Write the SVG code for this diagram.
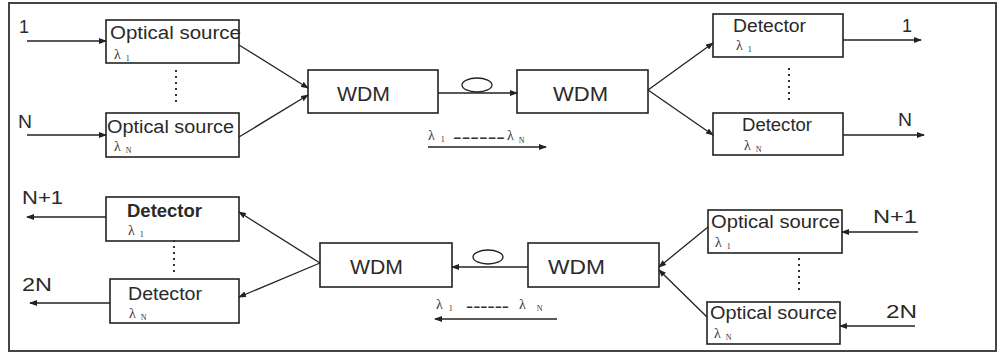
<svg xmlns="http://www.w3.org/2000/svg" width="1000" height="356" viewBox="0 0 1000 356">
<style>
.box{fill:#fff;stroke:#222;stroke-width:1.6}
.t{font-family:"Liberation Sans",Arial,sans-serif;font-size:18px;fill:#2a2a2a}
.w{font-family:"Liberation Sans",Arial,sans-serif;font-size:20px;fill:#2a2a2a}
.n{font-family:"Liberation Sans",Arial,sans-serif;font-size:18px;fill:#2a2a2a}
.l{font-family:"Liberation Serif","Times New Roman",serif;font-size:14px;fill:#333}
.s{font-size:8px}
.d{font-family:"Liberation Sans",Arial,sans-serif;font-size:13px;font-weight:bold;fill:#333}
.c{stroke:#222;stroke-width:1.3;fill:none}
.dots{stroke:#333;stroke-width:2;stroke-dasharray:2 4;fill:none}
</style>
<defs>
<marker id="ah" markerWidth="8" markerHeight="6" refX="7" refY="3" orient="auto" markerUnits="userSpaceOnUse">
<path d="M0,0 L8,3 L0,6 Z" fill="#222"/>
</marker>
</defs>
<rect x="0" y="0" width="1000" height="356" fill="#fff"/>
<rect id="frame" x="9" y="3" width="987" height="348" fill="none" stroke="#444" stroke-width="2"/>

<g id="src1">
<rect class="box" x="106" y="20" width="133" height="43"/>
<text class="t" x="110" y="39" textLength="131" lengthAdjust="spacingAndGlyphs">Optical source</text>
<text class="l" x="114" y="59">λ<tspan class="s" dx="5" dy="2">1</tspan></text>
</g>
<g id="srcN">
<rect class="box" x="106" y="113" width="133" height="44"/>
<text class="t" x="107" y="133" textLength="127" lengthAdjust="spacingAndGlyphs">Optical source</text>
<text class="l" x="114" y="151">λ<tspan class="s" dx="5" dy="2">N</tspan></text>
</g>
<g id="wdm1">
<rect class="box" x="308" y="70" width="130" height="43"/>
<text class="w" x="337" y="101" textLength="53" lengthAdjust="spacingAndGlyphs">WDM</text>
</g>
<g id="wdm2">
<rect class="box" x="517" y="70" width="131" height="43"/>
<text class="w" x="553" y="101" textLength="55" lengthAdjust="spacingAndGlyphs">WDM</text>
</g>
<g id="det1">
<rect class="box" x="713" y="14" width="130" height="43"/>
<text class="t" x="733" y="32" textLength="73" lengthAdjust="spacingAndGlyphs">Detector</text>
<text class="l" x="736" y="50">λ<tspan class="s" dx="5" dy="2">1</tspan></text>
</g>
<g id="detN">
<rect class="box" x="713" y="113" width="130" height="42"/>
<text class="t" x="742" y="131" textLength="70" lengthAdjust="spacingAndGlyphs">Detector</text>
<text class="l" x="744" y="150">λ<tspan class="s" dx="5" dy="2">N</tspan></text>
</g>

<g id="det3">
<rect class="box" x="106" y="197" width="133" height="44"/>
<text class="t" x="127" y="217" textLength="75" lengthAdjust="spacingAndGlyphs" font-weight="bold">Detector</text>
<text class="l" x="128" y="235">λ<tspan class="s" dx="5" dy="2">1</tspan></text>
</g>
<g id="det4">
<rect class="box" x="110" y="279" width="129" height="44"/>
<text class="t" x="128" y="300" textLength="74" lengthAdjust="spacingAndGlyphs">Detector</text>
<text class="l" x="129" y="318">λ<tspan class="s" dx="5" dy="2">N</tspan></text>
</g>
<g id="wdm3">
<rect class="box" x="320" y="243" width="132" height="44"/>
<text class="w" x="350" y="274" textLength="53" lengthAdjust="spacingAndGlyphs">WDM</text>
</g>
<g id="wdm4">
<rect class="box" x="528" y="243" width="131" height="44"/>
<text class="w" x="548" y="274" textLength="57" lengthAdjust="spacingAndGlyphs">WDM</text>
</g>
<g id="src3">
<rect class="box" x="708" y="210" width="134" height="43"/>
<text class="t" x="711" y="228" textLength="129" lengthAdjust="spacingAndGlyphs">Optical source</text>
<text class="l" x="715" y="247">λ<tspan class="s" dx="5" dy="2">1</tspan></text>
</g>
<g id="src4">
<rect class="box" x="707" y="302" width="133" height="42"/>
<text class="t" x="710" y="319" textLength="127" lengthAdjust="spacingAndGlyphs">Optical source</text>
<text class="l" x="714" y="338">λ<tspan class="s" dx="5" dy="2">N</tspan></text>
</g>

<g id="labels">
<text class="n" x="19" y="33">1</text>
<text class="n" x="18" y="128" textLength="14" lengthAdjust="spacingAndGlyphs">N</text>
<text class="n" x="902" y="32">1</text>
<text class="n" x="898" y="126" textLength="14" lengthAdjust="spacingAndGlyphs">N</text>
<text class="n" x="22" y="204" textLength="41" lengthAdjust="spacingAndGlyphs">N+1</text>
<text class="n" x="22" y="291" textLength="30" lengthAdjust="spacingAndGlyphs">2N</text>
<text class="n" x="873" y="223" textLength="44" lengthAdjust="spacingAndGlyphs">N+1</text>
<text class="n" x="886" y="318" textLength="31" lengthAdjust="spacingAndGlyphs">2N</text>
<text class="l" x="428" y="140">λ<tspan class="s" dx="6" dy="2">1</tspan></text>
<text class="d" x="453" y="142" textLength="52" lengthAdjust="spacingAndGlyphs">------</text>
<text class="l" x="507" y="140">λ<tspan class="s" dx="5" dy="3">N</tspan></text>
<text class="l" x="436" y="309">λ<tspan class="s" dx="6" dy="2">1</tspan></text>
<text class="d" x="466" y="311" textLength="43" lengthAdjust="spacingAndGlyphs">------</text>
<text class="l" x="519" y="309">λ<tspan class="s" dx="11" dy="2">N</tspan></text>
<ellipse cx="477" cy="85" rx="15" ry="7" fill="none" stroke="#222" stroke-width="1.3"/>
<ellipse cx="488" cy="257" rx="15" ry="7" fill="none" stroke="#222" stroke-width="1.3"/>
<line class="dots" x1="176" y1="70" x2="176" y2="106"/>
<line class="dots" x1="789" y1="68" x2="789" y2="104"/>
<line class="dots" x1="174" y1="240" x2="174" y2="272"/>
<line class="dots" x1="799" y1="258" x2="799" y2="294"/>
</g>

<g id="connectors">
<line class="c" x1="27" y1="41" x2="106" y2="41" marker-end="url(#ah)"/>
<line class="c" x1="27" y1="135" x2="106" y2="135" marker-end="url(#ah)"/>
<line class="c" x1="239" y1="45" x2="308" y2="88" marker-end="url(#ah)"/>
<line class="c" x1="239" y1="137" x2="308" y2="95" marker-end="url(#ah)"/>
<line class="c" x1="438" y1="93" x2="517" y2="93" marker-end="url(#ah)"/>
<line class="c" x1="428" y1="147" x2="546" y2="147" marker-end="url(#ah)"/>
<line class="c" x1="648" y1="90" x2="713" y2="43" marker-end="url(#ah)"/>
<line class="c" x1="648" y1="90" x2="713" y2="135" marker-end="url(#ah)"/>
<line class="c" x1="843" y1="40" x2="921" y2="40" marker-end="url(#ah)"/>
<line class="c" x1="843" y1="135" x2="924" y2="135" marker-end="url(#ah)"/>

<line class="c" x1="106" y1="217" x2="27" y2="217" marker-end="url(#ah)"/>
<line class="c" x1="110" y1="303" x2="30" y2="303" marker-end="url(#ah)"/>
<line class="c" x1="320" y1="263" x2="239" y2="212" marker-end="url(#ah)"/>
<line class="c" x1="320" y1="263" x2="239" y2="297" marker-end="url(#ah)"/>
<line class="c" x1="528" y1="267" x2="452" y2="267" marker-end="url(#ah)"/>
<line class="c" x1="557" y1="319" x2="435" y2="319" marker-end="url(#ah)"/>
<line class="c" x1="708" y1="227" x2="659" y2="267" marker-end="url(#ah)"/>
<line class="c" x1="707" y1="317" x2="659" y2="270" marker-end="url(#ah)"/>
<line class="c" x1="918" y1="232" x2="842" y2="232" marker-end="url(#ah)"/>
<line class="c" x1="915" y1="326" x2="840" y2="326" marker-end="url(#ah)"/>
</g>
</svg>
